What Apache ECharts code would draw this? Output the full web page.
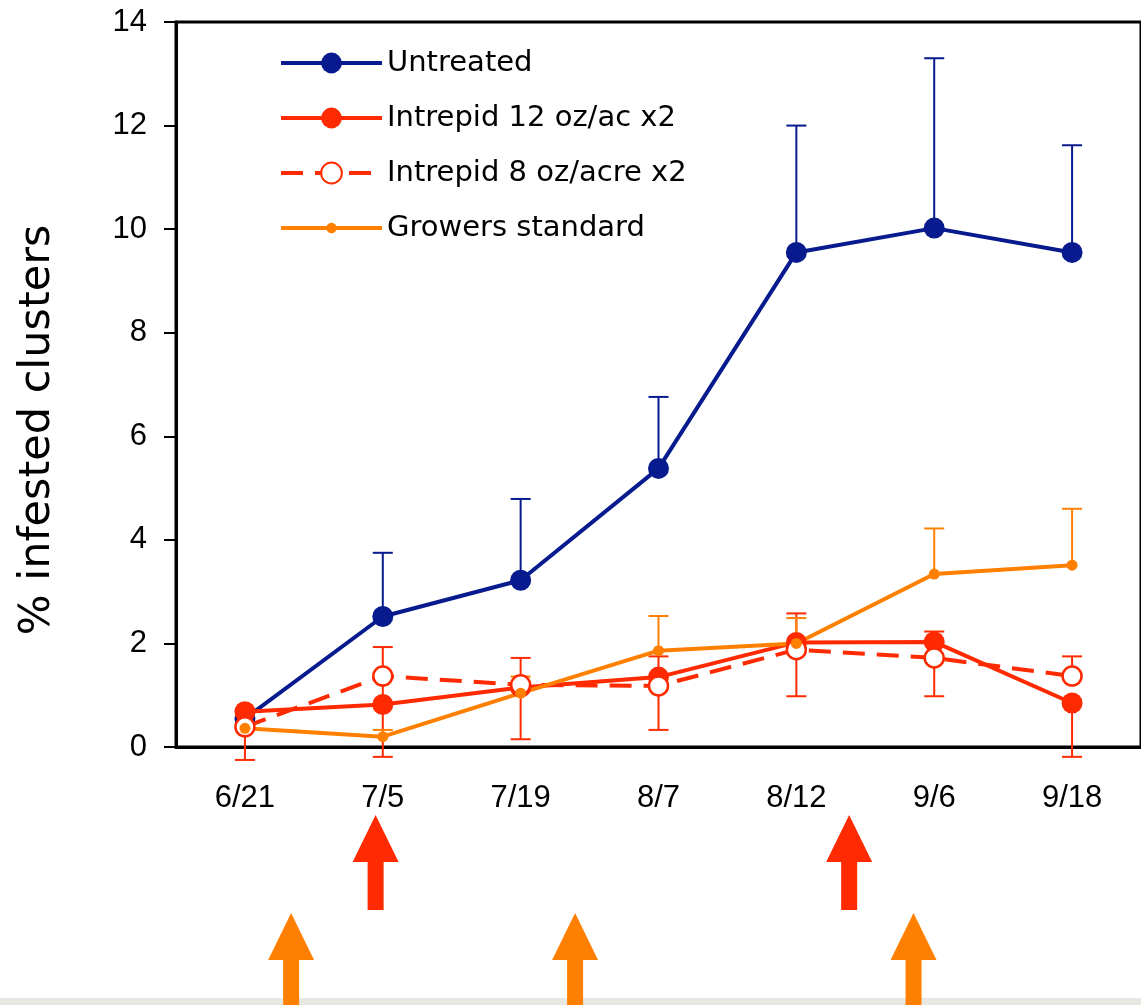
<!DOCTYPE html>
<html>
<head>
<meta charset="utf-8">
<script src="https://cdn.jsdelivr.net/npm/echarts@6/dist/echarts.min.js"></script>
<style>
  html, body { margin: 0; padding: 0; background: #fff; }
  #chart { width: 1141px; height: 1005px; }
</style>
</head>
<body>
<div id="chart"></div>
<script>
// sampling dates
const categories = ['6/21', '7/5', '7/19', '8/7', '8/12', '9/6', '9/18'];

// % infested clusters per treatment
const untreated = [0.55, 2.52, 3.22, 5.38, 9.55, 10.02, 9.55];
const intrepid12 = [0.68, 0.82, 1.15, 1.35, 2.02, 2.03, 0.85];
const intrepid8 = [0.39, 1.37, 1.2, 1.18, 1.88, 1.72, 1.37];
const growers = [0.36, 0.2, 1.04, 1.86, 2.0, 3.34, 3.51];

// error bar ends (null = no bar on that side)
const untreatedHigh = [null, 3.75, 4.79, 6.76, 12.0, 13.3, 11.62];
const untreatedLow = [null, null, null, null, null, null, null];
const intrepid12High = [null, 1.37, null, null, 2.58, 2.23, null];
const intrepid12Low = [-0.25, -0.19, null, null, null, null, -0.19];
const intrepid8High = [null, 1.93, 1.72, 1.75, null, null, 1.75];
const intrepid8Low = [null, null, 0.15, 0.33, 0.98, 0.98, null];
const growersHigh = [null, 0.33, 1.36, 2.53, 2.49, 4.22, 4.6];
const growersLow = [null, null, null, null, null, null, null];

// spray timings, as positions on the date axis (category index units)
const sprayIntrepid = [0.948, 4.383];
const sprayGrowers = [0.335, 2.395, 4.85];

const NAVY = '#071a8e';
const RED = '#ff2a00';
const ORANGE = '#ff8000';

let chart = echarts.init(document.getElementById('chart'));

// vertical error bar with caps
function errorBars(values, lows, highs, color) {
  return {
    type: 'custom',
    z: 2,
    silent: true,
    data: values.map((v, i) => [i, v]),
    renderItem(params, api) {
      let i = params.dataIndex;
      let c = api.coord([i, values[i]]);
      let kids = [];
      [lows[i], highs[i]].forEach(e => {
        if (e == null) return;
        let p = api.coord([i, e]);
        kids.push({
          type: 'line',
          shape: { x1: c[0], y1: c[1], x2: p[0], y2: p[1] },
          style: { stroke: color, lineWidth: 2 }
        });
        kids.push({
          type: 'line',
          shape: { x1: p[0] - 10, y1: p[1], x2: p[0] + 10, y2: p[1] },
          style: { stroke: color, lineWidth: 2 }
        });
      });
      return { type: 'group', children: kids };
    }
  };
}

// block arrows under the axis
function arrows(positions, color, offset) {
  return {
    type: 'custom',
    silent: true,
    clip: false,
    data: positions.map(p => [Math.floor(p), 0]),
    renderItem(params, api) {
      let p = positions[params.dataIndex];
      let i0 = Math.floor(p);
      let a = api.coord([i0, 0]);
      let b = api.coord([i0 + 1, 0]);
      let x = a[0] + (p - i0) * (b[0] - a[0]);
      let tip = a[1] + offset;
      let head = tip + 47;
      let end = tip + 95;
      return {
        type: 'polygon',
        shape: {
          points: [
            [x, tip], [x + 23, head], [x + 8, head], [x + 8, end],
            [x - 8, end], [x - 8, head], [x - 23, head]
          ]
        },
        style: { fill: color }
      };
    }
  };
}

const legendText = {
  fontFamily: 'DejaVu Sans',
  fontSize: 29,
  lineHeight: 30,
  color: '#000'
};

let option = {
  animation: false,
  grid: {
    left: 176,
    top: 22,
    width: 972,
    height: 725,
    show: true,
    borderColor: '#000',
    borderWidth: 3
  },
  legend: [
    {
      orient: 'vertical',
      left: 279,
      top: 48,
      padding: 0,
      itemWidth: 101,
      itemHeight: 26,
      itemGap: 25,
      lineStyle: { width: 4 },
      textStyle: legendText,
      data: ['Untreated', 'Intrepid 12 oz/ac x2', 'Intrepid 8 oz/acre x2']
    },
    {
      orient: 'vertical',
      left: 279,
      top: 213,
      padding: 0,
      itemWidth: 101,
      itemHeight: 13,
      lineStyle: { width: 4 },
      textStyle: legendText,
      data: ['Growers standard']
    }
  ],
  xAxis: {
    type: 'category',
    data: categories,
    boundaryGap: true,
    axisLine: { lineStyle: { color: '#000', width: 3 } },
    axisTick: { length: 12, lineStyle: { color: '#000', width: 2 } },
    axisLabel: {
      margin: 36,
      fontFamily: 'Liberation Sans',
      fontSize: 31,
      color: '#000'
    }
  },
  yAxis: {
    type: 'value',
    min: 0,
    max: 14,
    interval: 2,
    axisLine: { show: true, lineStyle: { color: '#000', width: 3 } },
    axisTick: { show: true, length: 12, lineStyle: { color: '#000', width: 2 } },
    axisLabel: {
      margin: 29,
      fontFamily: 'Liberation Sans',
      fontSize: 31,
      color: '#000'
    },
    splitLine: { show: false }
  },
  graphic: [
    {
      type: 'rect',
      z: 0,
      shape: { x: 0, y: 998, width: 1141, height: 7 },
      style: { fill: '#e8e8e3' }
    },
    {
      type: 'text',
      x: 38,
      y: 430,
      rotation: Math.PI / 2,
      style: {
        text: '% infested clusters',
        font: '43px "DejaVu Sans"',
        fill: '#000',
        align: 'center',
        verticalAlign: 'middle'
      }
    }
  ],
  series: [
    errorBars(untreated, untreatedLow, untreatedHigh, NAVY),
    errorBars(intrepid12, intrepid12Low, intrepid12High, RED),
    errorBars(intrepid8, intrepid8Low, intrepid8High, RED),
    errorBars(growers, growersLow, growersHigh, ORANGE),
    {
      name: 'Untreated',
      type: 'line',
      data: untreated,
      symbol: 'circle',
      symbolSize: 21,
      color: NAVY,
      lineStyle: { width: 4, color: NAVY },
      itemStyle: { color: NAVY }
    },
    {
      name: 'Intrepid 12 oz/ac x2',
      type: 'line',
      data: intrepid12,
      symbol: 'circle',
      symbolSize: 21,
      color: RED,
      lineStyle: { width: 4, color: RED },
      itemStyle: { color: RED }
    },
    {
      name: 'Intrepid 8 oz/acre x2',
      type: 'line',
      data: intrepid8,
      symbol: 'circle',
      symbolSize: 19,
      color: RED,
      lineStyle: { width: 4, color: RED, type: [22, 12] },
      itemStyle: { color: '#fff', borderColor: RED, borderWidth: 2.5 }
    },
    {
      name: 'Growers standard',
      type: 'line',
      data: growers,
      symbol: 'circle',
      symbolSize: 11,
      color: ORANGE,
      lineStyle: { width: 4, color: ORANGE },
      itemStyle: { color: ORANGE }
    },
    arrows(sprayIntrepid, RED, 68),
    arrows(sprayGrowers, ORANGE, 166)
  ]
};

chart.setOption(option);
</script>
</body>
</html>
